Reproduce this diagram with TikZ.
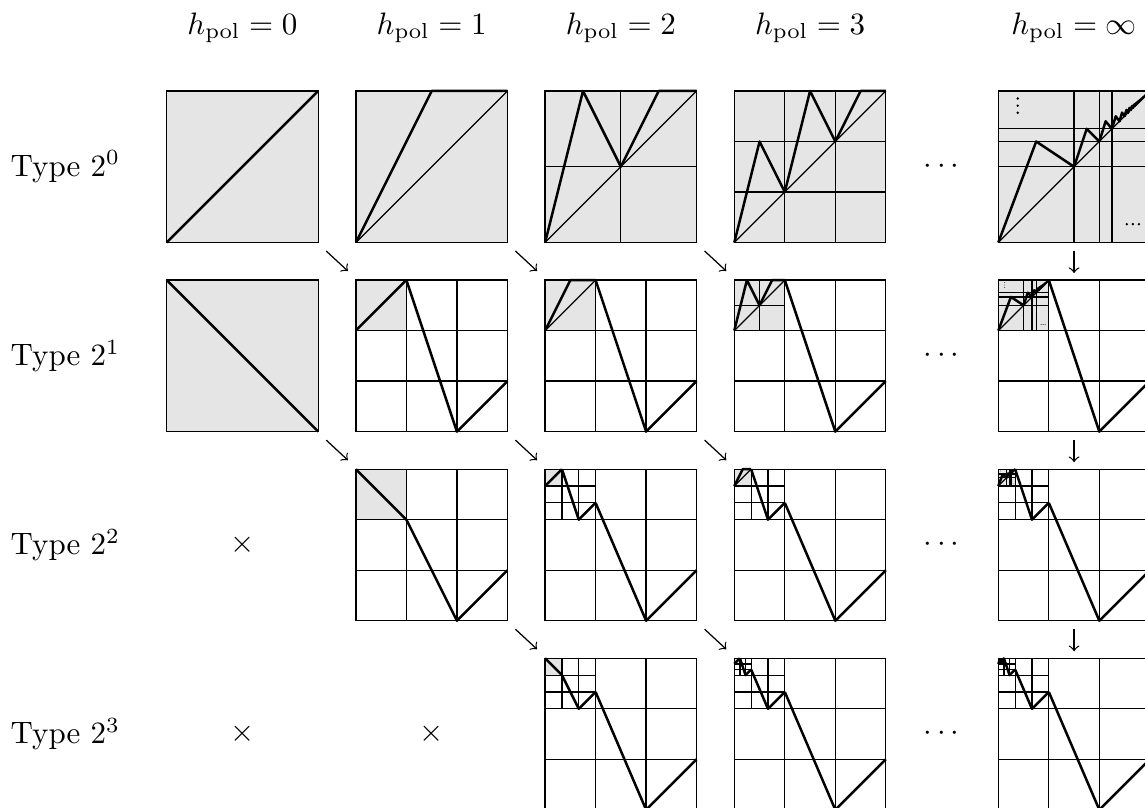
\documentclass[tikz,border=0pt]{standalone}
\definecolor{panelgray}{gray}{0.9}
\tikzset{
  thinline/.style={line width=0.4pt},
  thickline/.style={line width=0.8pt, line join=round},
  gridline/.style={line width=0.4pt},
  border/.style={line width=0.4pt},
  panelbox/.style={rectangle, minimum size=1.718cm, inner sep=0pt, outer sep=0pt},
  arr/.style={->, line width=0.4pt},
  lbl/.style={inner sep=0pt},
}
% Type 2^0 panels, indexed by h (99 = infinity)
\expandafter\def\csname pzero0\endcsname{%
  \fill[panelgray] (0,0) rectangle (1,1);
  \draw[thickline] (0,0) -- (1,1);
  \draw[border] (0,0) rectangle (1,1);}
\expandafter\def\csname pzero1\endcsname{%
  \fill[panelgray] (0,0) rectangle (1,1);
  \draw[thinline] (0,0) -- (1,1);
  \draw[thickline] (0,0) -- (1/2,1) -- (1,1);
  \draw[border] (0,0) rectangle (1,1);}
\expandafter\def\csname pzero2\endcsname{%
  \fill[panelgray] (0,0) rectangle (1,1);
  \draw[gridline] (1/2,0) -- (1/2,1) (0,1/2) -- (1,1/2);
  \draw[thinline] (0,0) -- (1,1);
  \draw[thickline] (0,0) -- (1/4,1) -- (1/2,1/2) -- (3/4,1) -- (1,1);
  \draw[border] (0,0) rectangle (1,1);}
\expandafter\def\csname pzero3\endcsname{%
  \fill[panelgray] (0,0) rectangle (1,1);
  \draw[gridline] (1/3,0) -- (1/3,1) (2/3,0) -- (2/3,1) (0,1/3) -- (1,1/3) (0,2/3) -- (1,2/3);
  \draw[thinline] (0,0) -- (1,1);
  \draw[thickline] (0,0) -- (1/6,2/3) -- (1/3,1/3) -- (1/2,1) -- (2/3,2/3) -- (5/6,1) -- (1,1);
  \draw[border] (0,0) rectangle (1,1);}
\expandafter\def\csname pzero99\endcsname{%
  \fill[panelgray] (0,0) rectangle (1,1);
  \draw[gridline] (1/2,0) -- (1/2,1) (2/3,0) -- (2/3,1) (3/4,0) -- (3/4,1)
                  (0,1/2) -- (1,1/2) (0,2/3) -- (1,2/3) (0,3/4) -- (1,3/4);
  \draw[thinline] (0,0) -- (1,1);
  \draw[thickline] (0,0) foreach \n in {1,...,40} {
      -- ({1-1/\n+(1/\n-1/(\n+1))/2},{1-1/(\n+2)}) -- ({1-1/(\n+1)},{1-1/(\n+1)}) } -- (1,1);
  \fill (0.128,0.95) circle[radius=0.009] (0.128,0.903) circle[radius=0.009] (0.128,0.856) circle[radius=0.009];
  \fill (0.848,0.121) circle[radius=0.009] (0.888,0.121) circle[radius=0.009] (0.928,0.121) circle[radius=0.009];
  \draw[border] (0,0) rectangle (1,1);}
\newcommand\pAnti{%
  \fill[panelgray] (0,0) rectangle (1,1);
  \draw[thickline] (0,1) -- (1,0);
  \draw[border] (0,0) rectangle (1,1);}
\newcommand\pT[2]{%
  \ifnum#1=0 \def\pnext{\csname pzero#2\endcsname}%
  \else\ifnum#2=0 \def\pnext{\pAnti}%
  \else \def\pnext{\pRec{#1}{#2}}\fi\fi
  \pnext}
\newcommand\pRec[2]{%
  \draw[gridline] (1/3,0) -- (1/3,1) (2/3,0) -- (2/3,1) (0,1/3) -- (1,1/3) (0,2/3) -- (1,2/3);
  \begin{scope}[shift={(0,2/3)}, scale=0.333333]
    \edef\pinner{\noexpand\pT{\the\numexpr#1-1\relax}{\ifnum#2=99 99\else\the\numexpr#2-1\relax\fi}}%
    \pinner
  \end{scope}
  \ifnum#1=1 \def\pey{1}\else\ifnum#2=1 \def\pey{2/3}\else\def\pey{7/9}\fi\fi
  \draw[thickline] (1/3,\pey) -- (2/3,0) -- (1,1/3);
  \draw[border] (0,0) rectangle (1,1);}
\newcommand\panelat[5]{%
  \node[panelbox] (#1) at (#2,#3) {};
  \begin{scope}[shift={(#1.south west)}, x={(1.718cm,0cm)}, y={(0cm,1.718cm)}]
    \pT{#4}{#5}
  \end{scope}}
\begin{document}
\begin{tikzpicture}[x=0.01134cm, y=-0.01134cm]
\useasboundingbox (0,0) rectangle (1145,807);
% column headers
\node[lbl] (h0) at (242.45,28) {$h_{\mathrm{pol}} = 0$};
\node[lbl] (h1) at (431.65,28) {$h_{\mathrm{pol}} = 1$};
\node[lbl] (h2) at (620.85,28) {$h_{\mathrm{pol}} = 2$};
\node[lbl] (h3) at (810.05,28) {$h_{\mathrm{pol}} = 3$};
\node[lbl] (h4) at (1074.05,28) {$h_{\mathrm{pol}} = \infty$};
% row labels
\node[lbl, anchor=west] (t0) at (10,166.75) {Type $2^0$};
\node[lbl, anchor=west] (t1) at (10,355.85) {Type $2^1$};
\node[lbl, anchor=west] (t2) at (10,544.95) {Type $2^2$};
\node[lbl, anchor=west] (t3) at (10,734.05) {Type $2^3$};
% panels
\panelat{p00}{242.45}{166.75}{0}{0}
\panelat{p01}{431.65}{166.75}{0}{1}
\panelat{p02}{620.85}{166.75}{0}{2}
\panelat{p03}{810.05}{166.75}{0}{3}
\panelat{p04}{1074.05}{166.75}{0}{99}
\panelat{p10}{242.45}{355.85}{1}{0}
\panelat{p11}{431.65}{355.85}{1}{1}
\panelat{p12}{620.85}{355.85}{1}{2}
\panelat{p13}{810.05}{355.85}{1}{3}
\panelat{p14}{1074.05}{355.85}{1}{99}
\panelat{p21}{431.65}{544.95}{2}{1}
\panelat{p22}{620.85}{544.95}{2}{2}
\panelat{p23}{810.05}{544.95}{2}{3}
\panelat{p24}{1074.05}{544.95}{2}{99}
\panelat{p32}{620.85}{734.05}{3}{2}
\panelat{p33}{810.05}{734.05}{3}{3}
\panelat{p34}{1074.05}{734.05}{3}{99}
% crosses
\node[lbl] (x20) at (242.45,544.95) {$\times$};
\node[lbl] (x30) at (242.45,734.05) {$\times$};
\node[lbl] (x31) at (431.65,734.05) {$\times$};
% dots
\node[lbl] (d0) at (941.5,166.75) {$\cdots$};
\node[lbl] (d1) at (941.5,355.85) {$\cdots$};
\node[lbl] (d2) at (941.5,544.95) {$\cdots$};
\node[lbl] (d3) at (941.5,734.05) {$\cdots$};
% arrows
\draw[arr] ([shift={(8,8.5)}]p00.south east) -- ([shift={(-8,-9)}]p11.north west);
\draw[arr] ([shift={(8,8.5)}]p01.south east) -- ([shift={(-8,-9)}]p12.north west);
\draw[arr] ([shift={(8,8.5)}]p02.south east) -- ([shift={(-8,-9)}]p13.north west);
\draw[arr] ([shift={(0,8)}]p04.south) -- ([shift={(0,-7)}]p14.north);
\draw[arr] ([shift={(8,8.5)}]p10.south east) -- ([shift={(-8,-9)}]p21.north west);
\draw[arr] ([shift={(8,8.5)}]p11.south east) -- ([shift={(-8,-9)}]p22.north west);
\draw[arr] ([shift={(8,8.5)}]p12.south east) -- ([shift={(-8,-9)}]p23.north west);
\draw[arr] ([shift={(0,8)}]p14.south) -- ([shift={(0,-7)}]p24.north);
\draw[arr] ([shift={(8,8.5)}]p21.south east) -- ([shift={(-8,-9)}]p32.north west);
\draw[arr] ([shift={(8,8.5)}]p22.south east) -- ([shift={(-8,-9)}]p33.north west);
\draw[arr] ([shift={(0,8)}]p24.south) -- ([shift={(0,-7)}]p34.north);
\end{tikzpicture}
\end{document}
